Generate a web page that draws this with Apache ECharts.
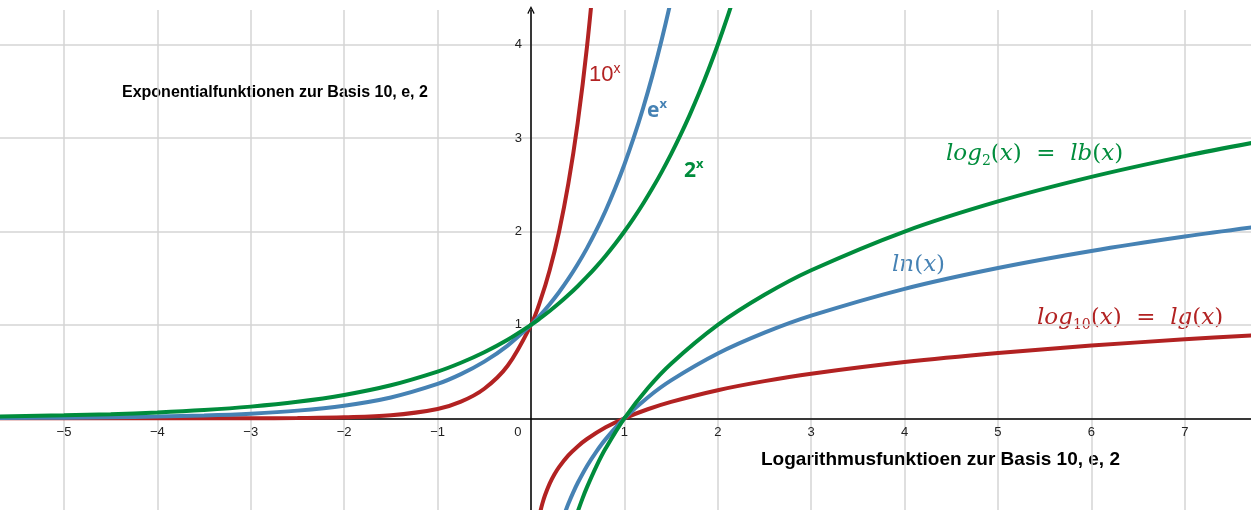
<!DOCTYPE html>
<html>
<head>
<meta charset="utf-8">
<script src="https://cdn.jsdelivr.net/npm/echarts@6/dist/echarts.min.js"></script>
<style>
html,body{margin:0;padding:0;background:#fff}
#main{width:1251px;height:510px}
</style>
</head>
<body>
<div id="main"></div>
<script>
// x positions used for the three exponential curves
var expX = [-5.7, -5, -4.5, -4, -3.5, -3, -2.5, -2, -1.5, -1, -0.75, -0.5, -0.25, 0,
    0.1, 0.2, 0.3, 0.4, 0.5, 0.6, 0.7, 0.8, 0.9, 1.0, 1.1, 1.2, 1.3, 1.4, 1.5, 1.6,
    1.7, 1.8, 1.9, 2.0, 2.1, 2.2];
var pow10Y = [0, 0.00001, 0.00003, 0.0001, 0.0003, 0.001, 0.0032, 0.01, 0.0316, 0.1, 0.1778, 0.3162, 0.5623, 1,
    1.2589, 1.5849, 1.9953, 2.5119, 3.1623, 3.9811, 5.0119];
var expY = [0.0034, 0.0067, 0.0111, 0.0183, 0.0302, 0.0498, 0.0821, 0.1353, 0.2231, 0.3679, 0.4724, 0.6065, 0.7788, 1,
    1.1052, 1.2214, 1.3499, 1.4918, 1.6487, 1.8221, 2.0138, 2.2255, 2.4596, 2.7183, 3.0042, 3.3201, 3.6693, 4.0552, 4.4817, 4.953];
var pow2Y = [0.0192, 0.0313, 0.0442, 0.0625, 0.0884, 0.125, 0.1768, 0.25, 0.3536, 0.5, 0.5946, 0.7071, 0.8409, 1,
    1.0718, 1.1487, 1.2311, 1.3195, 1.4142, 1.5157, 1.6245, 1.7411, 1.8661, 2, 2.1435, 2.2974, 2.4623, 2.639, 2.8284, 3.0314,
    3.249, 3.4822, 3.7321, 4, 4.2871, 4.5948];

// logarithms
var lgX = [0.1, 0.12, 0.15, 0.2, 0.25, 0.3, 0.4, 0.5, 0.6, 0.8, 1, 1.25, 1.5, 2, 2.5, 3, 4, 5, 6, 7, 7.8];
var lgY = [-1, -0.9208, -0.8239, -0.699, -0.602, -0.5229, -0.3979, -0.301, -0.2218, -0.0969, 0, 0.0969, 0.1761, 0.301, 0.3979, 0.4771, 0.6021, 0.699, 0.7782, 0.8451, 0.8921];
var lnX = [0.36, 0.4, 0.45, 0.5, 0.6, 0.7, 0.8, 1, 1.25, 1.5, 2, 2.5, 3, 4, 5, 6, 7, 7.8];
var lnY = [-1.0217, -0.9163, -0.7985, -0.6931, -0.5108, -0.3567, -0.2231, 0, 0.2231, 0.4055, 0.6931, 0.9163, 1.0986, 1.3863, 1.6094, 1.7918, 1.9459, 2.0541];
var lbX = [0.49, 0.55, 0.6, 0.7, 0.8, 1, 1.25, 1.5, 2, 2.5, 3, 4, 5, 6, 7, 7.8];
var lbY = [-1.0291, -0.8625, -0.737, -0.5146, -0.3219, 0, 0.3219, 0.585, 1, 1.3219, 1.585, 2, 2.3219, 2.585, 2.8074, 2.9635];

// visible window of the coordinate system
var xRange = [-5.685, 7.709];
var yRange = [-0.982, 4.372];

var RED = '#b22222', BLUE = '#4682b4', GREEN = '#008c3c';
var MATH = 'DejaVu Serif';

function pairs(xs, ys) {
    return ys.map(function (y, i) { return [xs[i], y]; });
}

function curve(name, xs, ys, color) {
    return {
        name: name,
        type: 'line',
        data: pairs(xs, ys),
        showSymbol: false,
        smooth: 0.35,
        clip: true,
        lineStyle: { color: color, width: 4 },
        itemStyle: { color: color },
        silent: true
    };
}

function mathStyles(color) {
    return {
        i: { fontSize: 23, fontStyle: 'italic', fontFamily: MATH, fill: color, lineHeight: 28 },
        r: { fontSize: 23, fontFamily: MATH, fill: color, lineHeight: 28 },
        s: { fontSize: 14, fontFamily: MATH, fill: color, verticalAlign: 'bottom' }
    };
}

var W = 1251, H = 510, TOP = 10;
// pixel offsets that carry the axes onto the zero lines
var xZeroPx = W * (0 - xRange[0]) / (xRange[1] - xRange[0]);
var yZeroFromBottom = (H - TOP) * (0 - yRange[0]) / (yRange[1] - yRange[0]);

var myChart = echarts.init(document.getElementById('main'));
var option = {
    animation: false,
    grid: { left: 0, right: 0, top: TOP, bottom: 0, outerBoundsMode: 'none' },
    xAxis: {
        type: 'value',
        position: 'bottom',
        offset: -yZeroFromBottom,
        min: xRange[0], max: xRange[1], minInterval: 1, maxInterval: 1,
        axisLine: { onZero: false, lineStyle: { color: '#000', width: 1.5 } },
        axisTick: { show: false },
        splitLine: { showMinLine: false, showMaxLine: false, lineStyle: { color: '#d4d4d4', width: 1.5 } },
        axisLabel: {
            color: '#222', fontSize: 13, fontFamily: 'Liberation Sans', margin: 8,
            showMinLabel: false, showMaxLabel: false,
            formatter: function (v) {
                if (v === 0) return '{z|0}';
                if (Math.round(v) !== v) return '';
                return v < 0 ? '\u2212' + (-v) : '' + v;
            },
            rich: { z: { padding: [0, 26, 0, 0], fontSize: 13, fontFamily: 'Liberation Sans', color: '#222' } }
        }
    },
    yAxis: {
        type: 'value',
        position: 'left',
        offset: -xZeroPx,
        min: yRange[0], max: yRange[1], minInterval: 1, maxInterval: 1,
        axisLine: {
            onZero: false,
            symbol: ['none', 'path://M0,10 L5,0 L10,10 L8.6,10.9 L5,3.4 L1.4,10.9 Z'],
            symbolSize: [11, 8],
            lineStyle: { color: '#000', width: 1.5 }
        },
        axisTick: { show: false },
        splitLine: { showMinLine: false, showMaxLine: false, lineStyle: { color: '#d4d4d4', width: 1.5 } },
        axisLabel: {
            color: '#222', fontSize: 13, fontFamily: 'Liberation Sans', margin: 9,
            showMinLabel: false, showMaxLabel: false,
            formatter: function (v) { return (v >= 1 && Math.round(v) === v) ? '' + v : ''; }
        }
    },
    series: [
        curve('10^x', expX, pow10Y, RED),
        curve('e^x', expX, expY, BLUE),
        curve('2^x', expX, pow2Y, GREEN),
        curve('lg', lgX, lgY, RED),
        curve('ln', lnX, lnY, BLUE),
        curve('lb', lbX, lbY, GREEN)
    ],
    graphic: [
        {
            type: 'text', left: 122, top: 85,
            style: { text: 'Exponentialfunktionen zur Basis 10, e, 2', fontSize: 16, fontWeight: 'bold', fontFamily: 'Liberation Sans', fill: '#000' }
        },
        {
            type: 'text', left: 761, top: 450,
            style: { text: 'Logarithmusfunktioen zur Basis 10, e, 2', fontSize: 19, fontWeight: 'bold', fontFamily: 'Liberation Sans', fill: '#000' }
        },
        {
            type: 'text', left: 589, top: 62,
            style: {
                text: '{a|10}{s|x}',
                rich: {
                    a: { fontSize: 22, fontFamily: 'Liberation Sans', fill: RED, lineHeight: 26 },
                    s: { fontSize: 14, fontFamily: 'Liberation Sans', fill: RED, verticalAlign: 'top' }
                }
            }
        },
        {
            type: 'text', left: 647, top: 98,
            style: {
                text: '{a|e}{s|x}',
                rich: {
                    a: { fontSize: 21, fontWeight: 'bold', fontFamily: 'Open Sans', fill: BLUE, lineHeight: 26 },
                    s: { fontSize: 13, fontWeight: 'bold', fontFamily: 'Open Sans', fill: BLUE, verticalAlign: 'top' }
                }
            }
        },
        {
            type: 'text', left: 684, top: 158,
            style: {
                text: '{a|2}{s|x}',
                rich: {
                    a: { fontSize: 21, fontWeight: 'bold', fontFamily: 'Open Sans', fill: GREEN, lineHeight: 26 },
                    s: { fontSize: 13, fontWeight: 'bold', fontFamily: 'Open Sans', fill: GREEN, verticalAlign: 'top' }
                }
            }
        },
        {
            type: 'text', left: 946, top: 143,
            style: { text: '{i|log}{s|2}{r|(}{i|x}{r|)  =  }{i|lb}{r|(}{i|x}{r|)}', rich: mathStyles(GREEN) }
        },
        {
            type: 'text', left: 892, top: 254,
            style: { text: '{i|ln}{r|(}{i|x}{r|)}', rich: mathStyles(BLUE) }
        },
        {
            type: 'text', left: 1037, top: 307,
            style: { text: '{i|log}{s|10}{r|(}{i|x}{r|)  =  }{i|lg}{r|(}{i|x}{r|)}', rich: mathStyles(RED) }
        }
    ]
};
myChart.setOption(option);
</script>
</body>
</html>
